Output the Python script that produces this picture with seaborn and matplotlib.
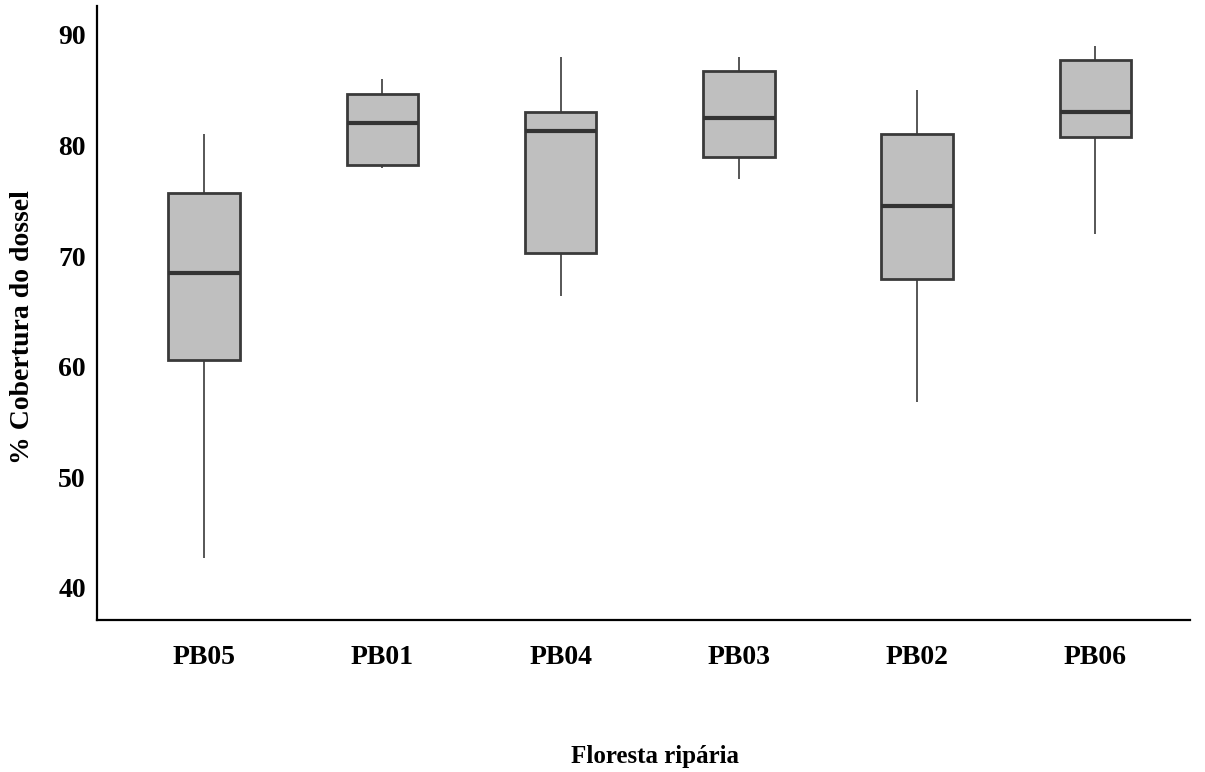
import pandas as pd
import seaborn as sns
import matplotlib.pyplot as plt

sns.set_style('white')
plt.rcParams['font.family'] = ['Liberation Serif', 'DejaVu Serif']
plt.rcParams['font.weight'] = 'bold'
plt.rcParams['text.color'] = 'black'
plt.rcParams['axes.labelcolor'] = 'black'
plt.rcParams['xtick.color'] = 'black'
plt.rcParams['ytick.color'] = 'black'

# five summary values per site: min, Q1, median, Q3, max
sites = ['PB05', 'PB01', 'PB04', 'PB03', 'PB02', 'PB06']
pb05 = [42.7, 60.6, 68.5, 75.7, 81.0]
pb01 = [78.0, 78.2, 82.0, 84.7, 86.0]
pb04 = [66.4, 70.3, 81.3, 83.0, 88.0]
pb03 = [77.0, 79.0, 82.5, 86.7, 88.0]
pb02 = [56.8, 67.9, 74.5, 81.0, 85.0]
pb06 = [72.0, 80.8, 83.0, 87.7, 89.0]


def build_frame():
    rows = []
    for site, vals in zip(sites, [pb05, pb01, pb04, pb03, pb02, pb06]):
        for v in vals:
            rows.append({'site': site, 'cover': v})
    return pd.DataFrame(rows)


def main():
    data = build_frame()
    fig = plt.figure(figsize=(12.05, 7.72), dpi=100)
    ax = fig.add_axes([0.0805, 0.197, 0.907, 0.795])

    sns.boxplot(x='site', y='cover', data=data, order=sites, ax=ax,
                color='#bfbfbf', saturation=1, linecolor='#3a3a3a',
                width=0.4, whis=(0, 100), showcaps=False,
                boxprops={'linewidth': 2},
                whiskerprops={'linewidth': 1.2},
                medianprops={'linewidth': 3, 'color': '#333333'})

    ax.set_xlim(-0.6, 5.53)
    ax.set_ylim(37.1, 92.6)
    ax.set_yticks([40, 50, 60, 70, 80, 90])
    sns.despine(ax=ax)
    for side in ['left', 'bottom']:
        ax.spines[side].set_color('black')
        ax.spines[side].set_linewidth(1.6)
    ax.tick_params(length=0, labelsize=20, pad=8)
    ax.tick_params(axis='x', pad=18)
    for lbl in ax.get_xticklabels() + ax.get_yticklabels():
        lbl.set_fontweight('bold')

    ax.set_xlabel('Floresta ripária', fontsize=18, fontweight='bold')
    ax.xaxis.set_label_coords(0.511, -0.203)
    ax.set_ylabel('% Cobertura do dossel', fontsize=20, fontweight='bold')
    ax.yaxis.set_label_coords(-0.057, 0.477)

    fig.savefig('out.png', dpi=100)


if __name__ == '__main__':
    main()
